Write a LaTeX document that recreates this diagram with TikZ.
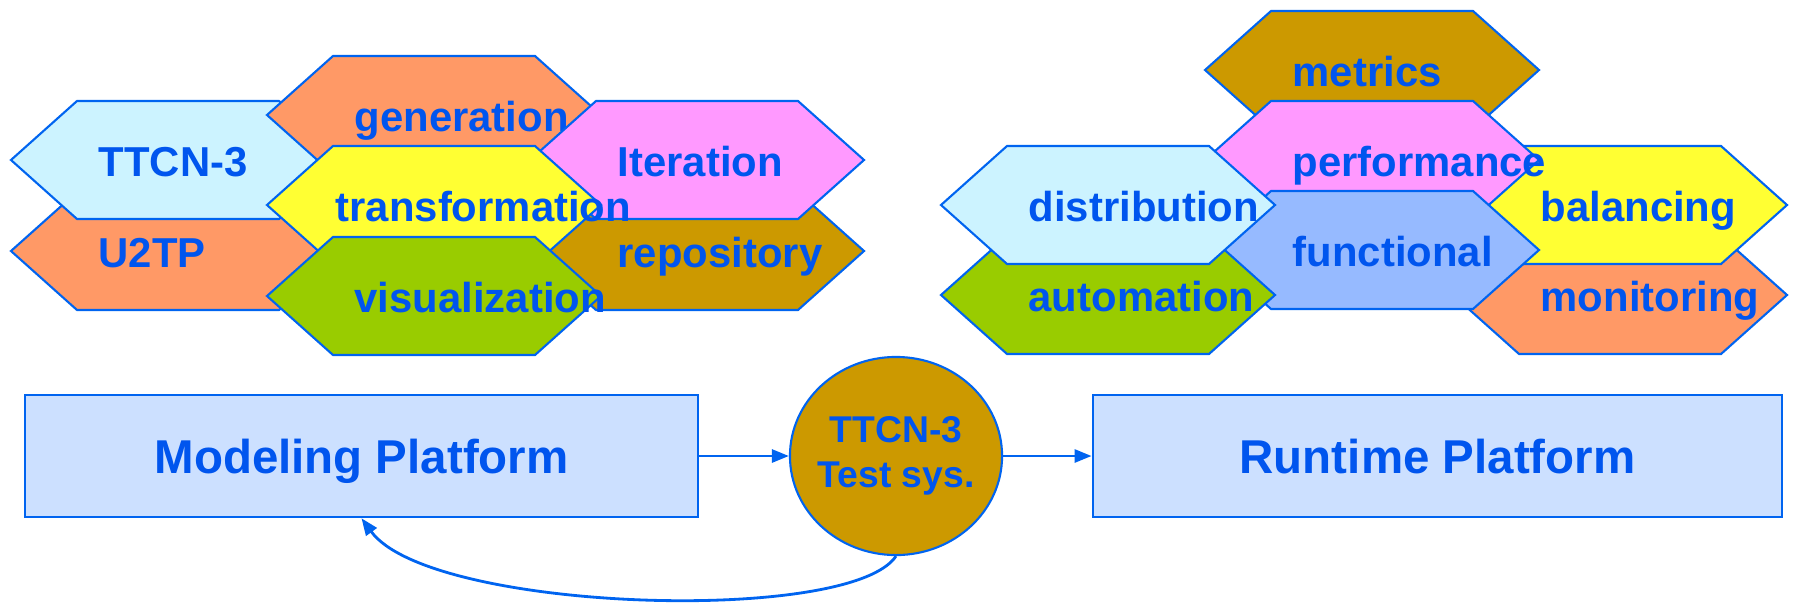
\documentclass[tikz,border=0pt]{standalone}
\usepackage{fontspec}
\setmainfont{Liberation Sans}
\usetikzlibrary{arrows.meta,shapes.geometric}
\definecolor{hexcyan}{RGB}{204,243,255}
\definecolor{hexorange}{RGB}{255,153,102}
\definecolor{hexpink}{RGB}{255,153,255}
\definecolor{hexyellow}{RGB}{255,255,51}
\definecolor{hexgreen}{RGB}{153,204,0}
\definecolor{hexgold}{RGB}{204,153,0}
\definecolor{hexblue}{RGB}{150,186,255}
\definecolor{boxfill}{RGB}{204,224,255}
\definecolor{edgeblue}{RGB}{0,100,240}
\definecolor{textblue}{RGB}{0,85,238}
\newcommand{\hexcell}[6][80]{%
  \draw[hexline, fill=#4] (#2,#3) ++(-167,0) -- ++(66,-59) -- ++(202,0)
    -- ++(66,59) -- ++(-66,59) -- ++(-202,0) -- cycle;%
  \node[hextext] (#5) at (#2-#1,#3+16) {#6};%
}

\begin{document}
\begin{tikzpicture}[x=0.01cm, y=-0.01cm,
    hexline/.style={draw=edgeblue, line width=0.6pt},
    hextext/.style={anchor=base west, inner sep=0pt, text=textblue,
      font=\bfseries\fontsize{11.9}{14}\selectfont},
    platform/.style={draw=edgeblue, line width=0.7pt, fill=boxfill,
      minimum height=1.22cm, text=textblue, text height=9.7pt, text depth=0pt,
      font=\bfseries\fontsize{13.5}{16}\selectfont},
    testsys/.style={ellipse, draw=edgeblue, line width=0.6pt, fill=hexgold,
      minimum width=2.12cm, minimum height=1.98cm, inner xsep=-4pt, inner ysep=0pt,
      align=center, text=textblue,
      font=\bfseries\fontsize{10.6}{12.8}\selectfont},
    flow/.style={draw=edgeblue, line width=0.8pt,
      -{Triangle[length=0.17cm, width=0.13cm]}}]
  \useasboundingbox (0,0) rectangle (1795,603);
  % modeling side
  \hexcell{178}{251}{hexorange}{utp}{U2TP}
  \hexcell{178}{160}{hexcyan}{ttcn}{TTCN-3}
  \hexcell{434}{115}{hexorange}{gen}{generation}
  \hexcell{697}{251}{hexgold}{repo}{repository}
  \hexcell{697}{160}{hexpink}{iter}{Iteration}
  \hexcell[99]{434}{205}{hexyellow}{trans}{transformation}
  \hexcell{434}{296}{hexgreen}{vis}{visualization}
  % runtime side
  \hexcell{1372}{70}{hexgold}{metrics}{metrics}
  \hexcell{1620}{295}{hexorange}{monit}{monitoring}
  \hexcell{1620}{205}{hexyellow}{balanc}{balancing}
  \hexcell{1372}{160}{hexpink}{perf}{performance}
  \hexcell{1372}{250}{hexblue}{func}{functional}
  \hexcell{1108}{295}{hexgreen}{autom}{automation}
  \hexcell{1108}{205}{hexcyan}{distr}{distribution}
  % platforms
  \node[platform, minimum width=6.73cm] (modeling) at (361.5,456) {Modeling Platform};
  \node[testsys] (tsys) at (896,456) {TTCN-3\\Test sys.};
  \node[platform, minimum width=6.89cm] (runtime) at (1437.5,456) {Runtime Platform};
  \draw[flow] (modeling) -- (tsys);
  \draw[flow] (tsys) -- (runtime);
  \draw[flow] (tsys.south) .. controls (850,625) and (430,612) .. (modeling.south);
\end{tikzpicture}
\end{document}
